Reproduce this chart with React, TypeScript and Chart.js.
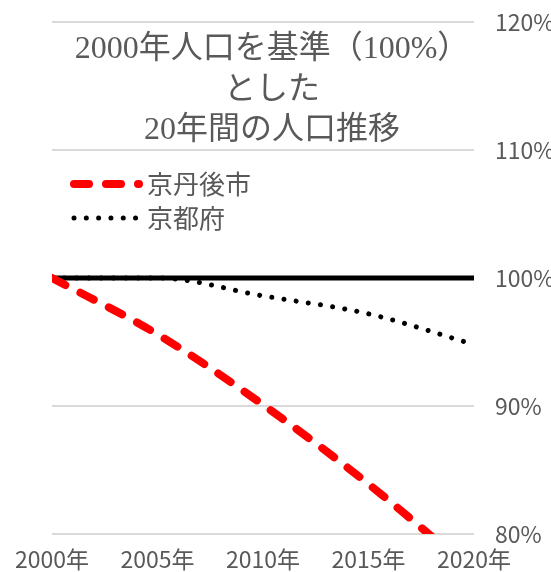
import React, { useEffect, useRef } from 'react';
import { Chart, registerables } from 'chart.js';

Chart.register(...registerables);

// ---- data ----
const years = ['2000年', '2005年', '2010年', '2015年', '2020年'];
const kyotangoLabel = '京丹後市';
const kyotangoValues = [100, 95.6, 90.1, 83.9, 77.0];
const kyotoLabel = '京都府';
const kyotoValues = [100, 100, 98.6, 97.2, 94.8];
const baselineValues = [100, 100, 100, 100, 100];
const yTicks = [80, 90, 100, 110, 120];
const titleLines = ['2000年人口を基準（100%）', 'とした', '20年間の人口推移'];

const TEXT = '#595959';
const SANS = '"Noto Sans CJK JP", "Noto Sans", sans-serif';

const titlePlugin = {
  id: 'innerTitle',
  afterDraw(chart: any) {
    const { ctx, chartArea } = chart;
    ctx.save();
    ctx.font = '32px "Liberation Serif", "Noto Sans CJK JP", serif';
    ctx.fillStyle = TEXT;
    ctx.textAlign = 'center';
    ctx.textBaseline = 'middle';
    const cx = (chartArea.left + chartArea.right) / 2 + 9;
    titleLines.forEach((t, i) => ctx.fillText(t, cx, chartArea.top + 28 + i * 40.5));
    ctx.restore();
  },
};

const legendPlugin = {
  id: 'innerLegend',
  afterDraw(chart: any) {
    const { ctx, chartArea } = chart;
    const items = chart.data.datasets.filter((d: any) => d.label);
    items.forEach((ds: any, i: number) => {
      const y = chartArea.top + 162 + i * 34;
      const x0 = chartArea.left + 22;
      ctx.save();
      ctx.beginPath();
      ctx.strokeStyle = ds.borderColor;
      ctx.lineWidth = ds.borderWidth;
      ctx.setLineDash(ds.borderDash || []);
      ctx.lineCap = ds.borderCapStyle || 'butt';
      ctx.moveTo(x0, y);
      ctx.lineTo(x0 + 65, y);
      ctx.stroke();
      ctx.setLineDash([]);
      ctx.font = '26px ' + SANS;
      ctx.fillStyle = TEXT;
      ctx.textAlign = 'left';
      ctx.textBaseline = 'middle';
      ctx.fillText(ds.label, x0 + 73, y);
      ctx.restore();
    });
  },
};

export default function App() {
  const ref = useRef<HTMLCanvasElement | null>(null);

  useEffect(() => {
    if (!ref.current) return;
    Chart.defaults.font.family = SANS;
    Chart.defaults.color = TEXT;
    const chart = new Chart(ref.current, {
      type: 'line',
      data: {
        labels: years,
        datasets: [
          {
            label: kyotangoLabel,
            data: kyotangoValues,
            borderColor: '#FF0000',
            borderWidth: 8,
            borderDash: [15, 17],
            borderCapStyle: 'round',
            pointRadius: 0,
            cubicInterpolationMode: 'monotone',
            fill: false,
            clip: { left: 0, top: 0, right: 4, bottom: 0 },
          } as any,
          {
            label: kyotoLabel,
            data: kyotoValues,
            borderColor: '#000000',
            borderWidth: 5,
            borderDash: [0.01, 12.3],
            borderCapStyle: 'round',
            pointRadius: 0,
            cubicInterpolationMode: 'monotone',
            fill: false,
            clip: { left: 0, top: 0, right: 4, bottom: 0 },
          } as any,
          {
            label: '',
            data: baselineValues,
            borderColor: '#000000',
            borderWidth: 5,
            pointRadius: 0,
            fill: false,
            clip: 0,
          } as any,
        ],
      },
      options: {
        responsive: false,
        animation: false,
        events: [],
        layout: { padding: { left: 52, top: 22, right: 0, bottom: 0 } },
        plugins: {
          legend: { display: false },
          title: { display: false },
          tooltip: { enabled: false },
        },
        scales: {
          x: {
            type: 'category',
            offset: false,
            grid: { display: false },
            border: { display: false },
            ticks: {
              color: TEXT,
              font: { family: SANS, size: 23 },
              padding: 3,
              autoSkip: false,
              maxRotation: 0,
            },
            afterFit: (s: any) => {
              s.height = 38;
            },
          },
          y: {
            position: 'right',
            min: 80,
            max: 120,
            afterBuildTicks: (s: any) => {
              s.ticks = yTicks.map((v) => ({ value: v }));
            },
            ticks: {
              color: TEXT,
              font: { family: SANS, size: 23 },
              padding: 21,
              callback: (v: any) => v + '%',
            },
            grid: { color: '#d9d9d9', lineWidth: 2, drawTicks: false },
            border: { display: false },
            afterFit: (s: any) => {
              s.width = 77;
              s.paddingTop = 0;
              s.paddingBottom = 0;
            },
          },
        },
      } as any,
      plugins: [titlePlugin, legendPlugin],
    });
    return () => chart.destroy();
  }, []);

  return (
    <div style={{ position: 'fixed', left: 0, top: 0, width: 551, height: 572, background: '#fff' }}>
      <canvas ref={ref} width={551} height={572} style={{ display: 'block' }} />
    </div>
  );
}
